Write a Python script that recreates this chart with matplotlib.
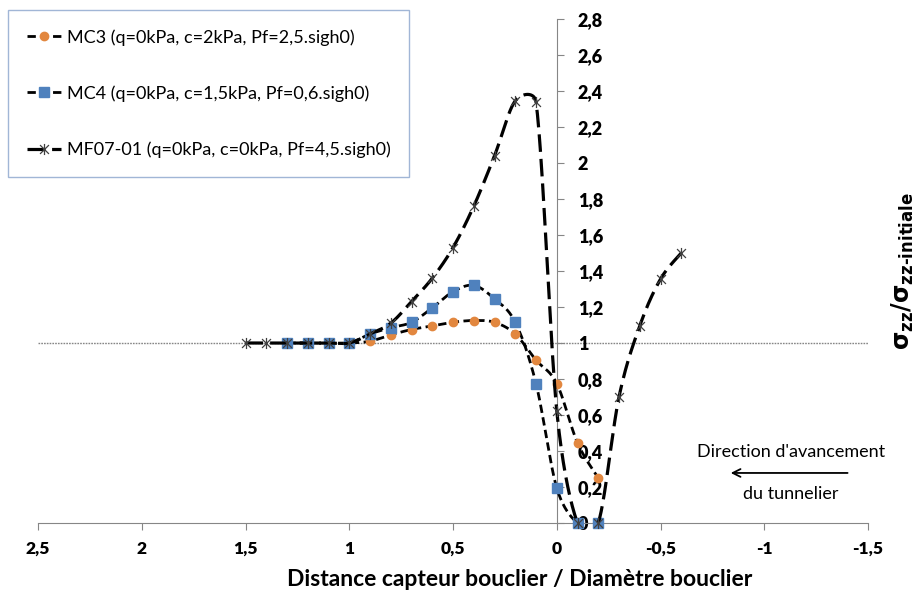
import numpy as np
import matplotlib
matplotlib.use("Agg")
import matplotlib.pyplot as plt
from matplotlib.lines import Line2D
from matplotlib.path import Path

# data
x_mc = [1.3, 1.2, 1.1, 1.0, 0.9, 0.8, 0.7, 0.6, 0.5, 0.4, 0.3, 0.2, 0.1, 0.0, -0.1, -0.2]
mc3 = [1.0, 1.0, 1.0, 1.0, 1.01, 1.045, 1.075, 1.095, 1.115, 1.125, 1.115, 1.05, 0.905, 0.775, 0.445, 0.25]
mc4 = [1.0, 1.0, 1.0, 1.0, 1.05, 1.085, 1.115, 1.195, 1.285, 1.32, 1.245, 1.115, 0.775, 0.195, 0.0, 0.0]

x_mf = [1.5, 1.4, 1.3, 1.2, 1.1, 1.0, 0.9, 0.8, 0.7, 0.6, 0.5, 0.4, 0.3, 0.2, 0.1,
        0.0, -0.1, -0.2, -0.3, -0.4, -0.5, -0.6]
mf07 = [1.0, 1.0, 1.0, 1.0, 1.0, 1.0, 1.05, 1.11, 1.23, 1.36, 1.53, 1.76, 2.04, 2.345, 2.34,
        0.625, 0.0, 0.0, 0.70, 1.095, 1.355, 1.5]

labels = ["MC3 (q=0kPa, c=2kPa, Pf=2,5.sigh0)",
          "MC4 (q=0kPa, c=1,5kPa, Pf=0,6.sigh0)",
          "MF07-01 (q=0kPa, c=0kPa, Pf=4,5.sigh0)"]

x_ticks = [2.5, 2, 1.5, 1, 0.5, 0, -0.5, -1, -1.5]
x_tick_labels = ["2,5", "2", "1,5", "1", "0,5", "0", "-0,5", "-1", "-1,5"]
y_ticks = [0, 0.2, 0.4, 0.6, 0.8, 1, 1.2, 1.4, 1.6, 1.8, 2, 2.2, 2.4, 2.6, 2.8]
y_tick_labels = ["0", "0,2", "0,4", "0,6", "0,8", "1", "1,2", "1,4", "1,6", "1,8",
                 "2", "2,2", "2,4", "2,6", "2,8"]

ORANGE = "#e2873f"
BLUE = "#4f81bd"
GREY = "#868686"

plt.rcParams.update({
    "font.family": ["Lato", "DejaVu Sans"],
    "mathtext.fontset": "custom",
    "mathtext.rm": "DejaVu Sans:bold",
    "mathtext.it": "DejaVu Sans:bold",
    "mathtext.bf": "DejaVu Sans:bold",
    "mathtext.default": "rm",
})

fig = plt.figure(figsize=(9.18, 5.93), dpi=100)
ax = fig.add_axes([38 / 918, 1 - 523 / 593, 830 / 918, 504 / 593])
ax.set_xlim(2.5, -1.5)
ax.set_ylim(0, 2.8)


def smooth(xs, ys, n=30):
    # Excel-style smoothed line: bezier segments built in display space
    pts = ax.transData.transform(np.column_stack([xs, ys]))
    out = []
    m = len(pts)
    for i in range(m - 1):
        p0, p1 = pts[max(i - 1, 0)], pts[i]
        p2, p3 = pts[i + 1], pts[min(i + 2, m - 1)]
        seg = np.hypot(*(p2 - p1))
        t1, t2 = p2 - p0, p3 - p1
        n1, n2 = np.hypot(*t1), np.hypot(*t2)
        c1 = p1 + t1 / n1 * min(n1 / 6, seg / 2) if n1 > 0 else p1
        c2 = p2 - t2 / n2 * min(n2 / 6, seg / 2) if n2 > 0 else p2
        t = np.linspace(0, 1, n)[:, None]
        b = ((1 - t) ** 3) * p1 + 3 * ((1 - t) ** 2) * t * c1 + 3 * (1 - t) * t ** 2 * c2 + t ** 3 * p2
        out.append(b if i == 0 else b[1:])
    out = np.vstack(out)
    d = ax.transData.inverted().transform(out)
    return d[:, 0], d[:, 1]


# asterisk marker (x + vertical bar) like Excel
star = Path([(-1, -1), (1, 1), (-1, 1), (1, -1), (0, -1.25), (0, 1.25)],
            [Path.MOVETO, Path.LINETO, Path.MOVETO, Path.LINETO, Path.MOVETO, Path.LINETO])

short_dash = (0, (3, 1.6))
long_dash = (0, (5.5, 2.2))

ax.axhline(1, color=GREY, lw=1, linestyle=(0, (1.2, 0.8)), zorder=1)

sx, sy = smooth(x_mc, mc3)
ax.plot(sx, sy, color="black", lw=2, linestyle=short_dash, zorder=3)
ax.plot(x_mc, mc3, linestyle="none", marker="o", ms=6, color=ORANGE, clip_on=False, zorder=4)

sx, sy = smooth(x_mc, mc4)
ax.plot(sx, sy, color="black", lw=2, linestyle=short_dash, zorder=3)
ax.plot(x_mc, mc4, linestyle="none", marker="s", ms=7, color=BLUE, clip_on=False, zorder=4)

sx, sy = smooth(x_mf, mf07)
ax.plot(sx, sy, color="black", lw=2.3, linestyle=long_dash, zorder=5)
ax.plot(x_mf, mf07, linestyle="none", marker=star, ms=8, mfc="none", mec="#404040",
        mew=0.9, clip_on=False, zorder=6)

# axes: y axis sits at x = 0 with labels on its right
for s in ["top", "left"]:
    ax.spines[s].set_visible(False)
ax.spines["right"].set_position(("data", 0))
ax.spines["right"].set_color(GREY)
ax.spines["bottom"].set_color(GREY)
ax.yaxis.set_ticks_position("right")
ax.set_xticks(x_ticks)
ax.set_xticklabels(x_tick_labels, fontweight="heavy", fontsize=12.5)
ax.set_yticks(y_ticks)
ax.set_yticklabels(y_tick_labels, fontweight="heavy", fontsize=13)
ax.tick_params(axis="x", direction="out", length=5, color=GREY, pad=8)
ax.tick_params(axis="y", direction="out", length=5, color=GREY, pad=10)
for t in ax.get_yticklabels():
    t.set_horizontalalignment("left")

fig.text(520 / 918, 1 - 580 / 593, "Distance capteur bouclier / Diamètre bouclier",
         ha="center", va="center", fontsize=16.5, fontweight="bold")
fig.text(903 / 918, 1 - 271 / 593, r"$\sigma_{zz}/\sigma_{zz\text{-}initiale}$",
         rotation=90, ha="center", va="center", fontsize=17)

# direction annotation
ax.annotate("", xy=(-0.825, 0.278), xytext=(-1.415, 0.278),
            arrowprops=dict(arrowstyle="->", color="black", lw=1.3, mutation_scale=14))
ax.text(-1.13, 0.395, "Direction d'avancement", ha="center", va="center", fontsize=13)
ax.text(-1.13, 0.163, "du tunnelier", ha="center", va="center", fontsize=13)

handles = [
    Line2D([], [], color="black", lw=2, linestyle=short_dash, marker="o", ms=6,
           mfc=ORANGE, mec=ORANGE),
    Line2D([], [], color="black", lw=2, linestyle=short_dash, marker="s", ms=7,
           mfc=BLUE, mec=BLUE),
    Line2D([], [], color="black", lw=2.3, linestyle=long_dash, marker=star, ms=8,
           mfc="none", mec="#404040", mew=0.9),
]
leg = fig.legend(handles, labels, loc="upper left", bbox_to_anchor=(8 / 918, 1 - 10 / 593),
                 fontsize=13, frameon=True, fancybox=False, borderpad=1.05, labelspacing=2.2,
                 handlelength=1.9, handletextpad=0.3, borderaxespad=0)
leg.get_frame().set_edgecolor("#8aa4cc")
leg.get_frame().set_linewidth(1)

fig.savefig("out.png", dpi=100)
